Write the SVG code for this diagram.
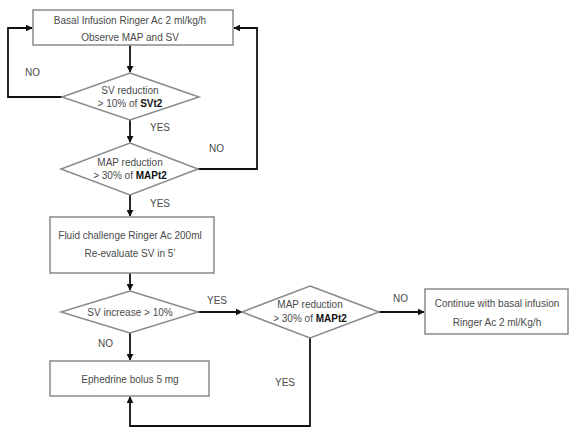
<svg xmlns="http://www.w3.org/2000/svg" width="586" height="441" viewBox="0 0 586 441">
<style>
.n{fill:#fff;stroke:#8a8a8a;stroke-width:1.5}
.t{font-family:"Liberation Sans",Arial,sans-serif;font-size:10px;fill:#4a4a4a;text-anchor:middle}
.l{font-family:"Liberation Sans",Arial,sans-serif;font-size:10px;fill:#4a4a4a}
.c{fill:none;stroke:#111;stroke-width:1.8}
.b{font-weight:bold;fill:#111}
</style>
<defs>
<marker id="a" viewBox="0 0 10 10" refX="9" refY="5" markerWidth="7" markerHeight="7" orient="auto" markerUnits="userSpaceOnUse">
<path d="M0,0 L10,5 L0,10 z" fill="#111"/>
</marker>
</defs>
<rect width="586" height="441" fill="#fff"/>
<g id="connectors">
<path class="c" d="M130,45 V72" marker-end="url(#a)"/>
<path class="c" d="M62,97 H8 V28 H32" marker-end="url(#a)"/>
<path class="c" d="M130,120 V142" marker-end="url(#a)"/>
<path class="c" d="M198,169 H257 V28 H234" marker-end="url(#a)"/>
<path class="c" d="M130,195 V216" marker-end="url(#a)"/>
<path class="c" d="M130,273 V290" marker-end="url(#a)"/>
<path class="c" d="M198,312 H242" marker-end="url(#a)"/>
<path class="c" d="M130,333 V360" marker-end="url(#a)"/>
<path class="c" d="M379,312 H424" marker-end="url(#a)"/>
<path class="c" d="M310,338 V426 H130 V397" marker-end="url(#a)"/>
<text class="l" x="25" y="76">NO</text>
<text class="l" x="150" y="131">YES</text>
<text class="l" x="209" y="152">NO</text>
<text class="l" x="150" y="207">YES</text>
<text class="l" x="207" y="304">YES</text>
<text class="l" x="98" y="347">NO</text>
<text class="l" x="275" y="386">YES</text>
<text class="l" x="393" y="302">NO</text>
</g>
<g id="n1">
<rect class="n" x="33" y="10" width="200" height="35"/>
<text class="t" x="130" y="24">Basal Infusion Ringer Ac 2 ml/kg/h</text>
<text class="t" x="130" y="41">Observe MAP and SV</text>
</g>
<g id="n2">
<polygon class="n" points="130,73 199,97 130,120 62,97"/>
<text class="t" x="130" y="94">SV reduction</text>
<text class="t" x="130" y="107">&gt; 10% of <tspan class="b">SVt2</tspan></text>
</g>
<g id="n3">
<polygon class="n" points="130,143 198,169 130,195 61,169"/>
<text class="t" x="130" y="166">MAP reduction</text>
<text class="t" x="130" y="179">&gt; 30% of <tspan class="b">MAPt2</tspan></text>
</g>
<g id="n4">
<rect class="n" x="50" y="217" width="164" height="56"/>
<text class="t" x="130" y="239">Fluid challenge Ringer Ac 200ml</text>
<text class="t" x="130" y="257">Re-evaluate SV in 5’</text>
</g>
<g id="n5">
<polygon class="n" points="130,291 198,312 130,333 61,312"/>
<text class="t" x="130" y="316">SV increase &gt; 10%</text>
</g>
<g id="n6">
<rect class="n" x="50" y="361" width="159" height="35"/>
<text class="t" x="130" y="383">Ephedrine bolus 5 mg</text>
</g>
<g id="n7">
<polygon class="n" points="310,286 379,312 310,338 242,312"/>
<text class="t" x="310" y="308">MAP reduction</text>
<text class="t" x="310" y="322">&gt; 30% of <tspan class="b">MAPt2</tspan></text>
</g>
<g id="n8">
<rect class="n" x="425" y="289" width="143" height="45"/>
<text class="t" x="497" y="307">Continue with basal infusion</text>
<text class="t" x="497" y="326">Ringer Ac 2 ml/Kg/h</text>
</g>
</svg>
